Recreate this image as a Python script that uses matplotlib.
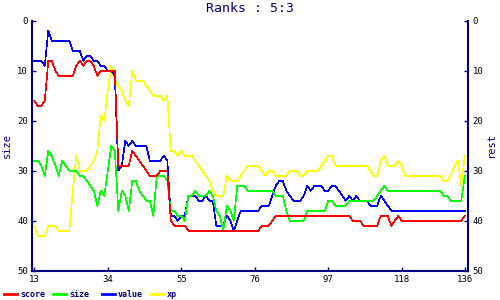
import matplotlib
matplotlib.use("Agg")
import matplotlib.pyplot as plt
from matplotlib.lines import Line2D

x_start = 13
x_end = 136
xtick_values = [13, 34, 55, 76, 97, 118, 136]
ytick_values = [0, 10, 20, 30, 40, 50]

score = [16, 17, 17, 16, 8, 8, 10, 11, 11, 11, 11, 11, 9, 8, 9, 8, 8, 9, 11, 10,
         10, 10, 10, 10, 29, 29, 29, 29, 26, 27, 28, 29, 30, 31, 31, 31, 30, 30, 30, 40,
         41, 41, 41, 41, 42, 42, 42, 42, 42, 42, 42, 42, 42, 42, 42, 42, 42, 42, 42, 42,
         42, 42, 42, 42, 42, 41, 41, 41, 40, 39, 39, 39, 39, 39, 39, 39, 39, 39, 39, 39,
         39, 39, 39, 39, 39, 39, 39, 39, 39, 39, 39, 40, 40, 40, 41, 41, 41, 41, 41, 39,
         39, 39, 41, 40, 39, 40, 40, 40, 40, 40, 40, 40, 40, 40, 40, 40, 40, 40, 40, 40,
         40, 40, 40, 39]

size = [28, 28, 29, 31, 26, 27, 29, 31, 28, 29, 30, 30, 30, 31, 31, 32, 33, 34, 37, 34,
        35, 30, 25, 26, 38, 34, 35, 38, 32, 32, 34, 35, 36, 36, 39, 31, 31, 31, 32, 38,
        38, 39, 39, 40, 35, 35, 34, 35, 35, 35, 34, 35, 38, 39, 42, 37, 38, 40, 33, 33,
        33, 34, 34, 34, 34, 34, 34, 34, 34, 35, 35, 35, 38, 40, 40, 40, 40, 40, 38, 38,
        38, 38, 38, 38, 36, 36, 37, 37, 37, 37, 36, 36, 36, 36, 36, 36, 36, 36, 35, 34,
        33, 34, 34, 34, 34, 34, 34, 34, 34, 34, 34, 34, 34, 34, 34, 34, 34, 35, 35, 36,
        36, 36, 36, 31]

value = [8, 8, 8, 9, 2, 4, 4, 4, 4, 4, 4, 6, 6, 6, 8, 7, 7, 8, 8, 9,
         9, 10, 10, 11, 30, 29, 24, 25, 24, 25, 25, 25, 25, 28, 28, 28, 28, 27, 28, 39,
         39, 40, 39, 39, 35, 35, 35, 36, 36, 35, 36, 36, 41, 41, 41, 39, 40, 42, 40, 38,
         38, 38, 38, 38, 38, 37, 37, 37, 35, 33, 32, 32, 34, 35, 36, 36, 36, 35, 33, 34,
         33, 33, 33, 34, 34, 33, 33, 34, 35, 36, 35, 36, 35, 36, 36, 36, 37, 37, 37, 35,
         36, 37, 38, 38, 38, 38, 38, 38, 38, 38, 38, 38, 38, 38, 38, 38, 38, 38, 38, 38,
         38, 38, 38, 38]

xp = [41, 43, 43, 43, 41, 41, 41, 42, 42, 42, 42, 34, 27, 30, 30, 30, 29, 28, 26, 19,
      20, 14, 9, 12, 13, 14, 16, 17, 10, 12, 12, 12, 13, 14, 15, 15, 15, 16, 15, 26,
      26, 27, 26, 27, 27, 27, 28, 29, 30, 31, 32, 34, 35, 35, 35, 31, 32, 32, 32, 31,
      30, 29, 29, 29, 29, 30, 31, 30, 30, 31, 31, 31, 31, 30, 30, 30, 31, 31, 30, 30,
      30, 30, 29, 28, 27, 27, 29, 29, 29, 29, 29, 29, 29, 29, 29, 29, 30, 31, 31, 28,
      27, 29, 29, 29, 28, 29, 31, 31, 31, 31, 31, 31, 31, 31, 31, 31, 31, 32, 32, 31,
      29, 28, 33, 27]

series_names = ["score", "size", "value", "xp"]
series_colors = ["#ff0000", "#00ff00", "#0000ff", "#ffff00"]
title_text = "Ranks : 5:3"
left_label = "size"
right_label = "rest"

navy = "#000080"
mono = "DejaVu Sans Mono"
xs = list(range(x_start, x_end + 1))

fig = plt.figure(figsize=(5, 3), dpi=100)
ax = fig.add_axes([32 / 500, 1 - 270.7 / 300, (468.3 - 32) / 500, 250 / 300])

data = {"score": score, "size": size, "value": value, "xp": xp}
draw_order = ["xp", "value", "size", "score"]
for name in draw_order:
    c = series_colors[series_names.index(name)]
    ax.plot(xs, data[name], color=c, lw=0.45, antialiased=False)

ax.set_xlim(12.34, 137.0)
ax.set_ylim(50, 0)
ax.set_xticks(xtick_values)
ax.set_yticks(ytick_values)

for s in ["left", "right", "bottom"]:
    ax.spines[s].set_color(navy)
    ax.spines[s].set_linewidth(1.5)
ax.spines["top"].set_visible(False)

ax.tick_params(axis="both", direction="in", length=3, width=1, color=navy,
               labelcolor="black", labelsize=6.5, pad=3)
for lab in ax.get_xticklabels() + ax.get_yticklabels():
    lab.set_fontfamily(mono)

ax.set_ylabel(left_label, color=navy, fontsize=7.5, family=mono, labelpad=4)

ax2 = ax.twinx()
ax2.set_ylim(50, 0)
ax2.set_yticks(ytick_values)
for s in ax2.spines.values():
    s.set_visible(False)
ax2.tick_params(axis="y", direction="in", length=3, width=1, color=navy,
                labelcolor="black", labelsize=6.5, pad=3)
for lab in ax2.get_yticklabels():
    lab.set_fontfamily(mono)
ax2.set_ylabel(right_label, color=navy, fontsize=7.5, family=mono,
               rotation=90, labelpad=2)

fig.text(0.5, 1 - 9 / 300, title_text, ha="center", va="center", color=navy,
         fontsize=9.5, family=mono)

# legend
leg_y = 1 - 294.3 / 300
for k, (name, c) in enumerate(zip(series_names, series_colors)):
    x0 = (4 + 49 * k) / 500
    fig.add_artist(Line2D([x0, x0 + 13 / 500], [leg_y, leg_y], color=c, lw=2,
                          transform=fig.transFigure))
    fig.text(x0 + 16 / 500, leg_y, name, ha="left", va="center", color=navy,
             fontsize=6, family=mono, weight="bold")

fig.savefig("out.png", dpi=100)
